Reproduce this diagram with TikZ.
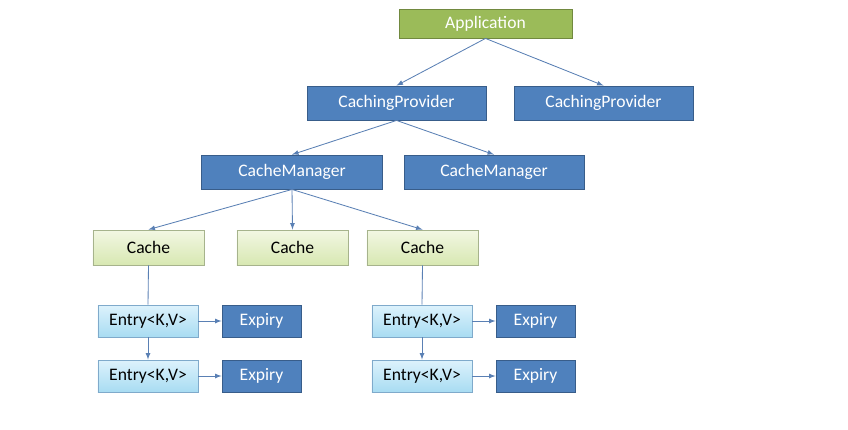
\documentclass[tikz,border=0pt]{standalone}
\usepackage{fontspec}
\setmainfont{Carlito}
\definecolor{appfill}{HTML}{9BBB59}
\definecolor{appline}{HTML}{71893F}
\definecolor{bluefill}{HTML}{4F81BD}
\definecolor{blueline}{HTML}{385D8A}
\definecolor{cachetop}{HTML}{F2F7E3}
\definecolor{cachebot}{HTML}{D8E8B2}
\definecolor{cacheline}{HTML}{A6B38C}
\definecolor{entrytop}{HTML}{DDF2FC}
\definecolor{entrybot}{HTML}{A8DCF2}
\definecolor{entryline}{HTML}{7FAACB}
\definecolor{linkcol}{HTML}{5A80B4}
\begin{document}
\begin{tikzpicture}[x=0.025cm, y=-0.025cm,
    every node/.style={font=\fontsize{12.5}{15}\selectfont},
    box/.style={draw, rectangle, inner sep=0pt, line width=0.6pt},
    dark/.style={box, fill=bluefill, draw=blueline, text=white, minimum height=0.85cm},
    cache/.style={box, top color=cachetop, bottom color=cachebot, draw=cacheline, minimum width=2.775cm, minimum height=0.875cm},
    entry/.style={box, top color=entrytop, bottom color=entrybot, draw=entryline, minimum width=2.5cm, minimum height=0.8cm},
    expiry/.style={box, fill=bluefill, draw=blueline, text=white, minimum width=1.975cm, minimum height=0.8cm},
    link/.style={-latex, linkcol, line width=0.6pt}]
    \useasboundingbox (0,0) rectangle (848,429);

    \node[box, fill=appfill, draw=appline, text=white, minimum width=4.325cm, minimum height=0.725cm] (app) at (485.5,23.5) {Application};
    \node[dark, minimum width=4.475cm] (cp1) at (396.5,103) {CachingProvider};
    \node[dark, minimum width=4.475cm] (cp2) at (603.5,103) {CachingProvider};
    \node[dark, minimum width=4.525cm] (cm1) at (292,172) {CacheManager};
    \node[dark, minimum width=4.5cm] (cm2) at (494,172) {CacheManager};

    \node[cache] (c1) at (148.5,247.5) {Cache};
    \node[cache] (c2) at (292.5,247.5) {Cache};
    \node[cache] (c3) at (422.5,247.5) {Cache};

    \node[entry] (e1) at (148,321) {Entry<K,V>};
    \node[expiry] (x1) at (261.5,321) {Expiry};
    \node[entry] (e2) at (148,376) {Entry<K,V>};
    \node[expiry] (x2) at (261.5,376) {Expiry};
    \node[entry] (e3) at (422,321) {Entry<K,V>};
    \node[expiry] (x3) at (535.5,321) {Expiry};
    \node[entry] (e4) at (422,376) {Entry<K,V>};
    \node[expiry] (x4) at (535.5,376) {Expiry};

    \draw[link] (app.south) -- (cp1.north);
    \draw[link] (app.south) -- (cp2.north);
    \draw[link] (cp1.south) -- (cm1.north);
    \draw[link] (cp1.south) -- (cm2.north);
    \draw[link] (cm1.south) -- (c1.north);
    \draw[link] (cm1.south) -- (c2.north);
    \draw[link] (cm1.south) -- (c3.north);

    \draw[linkcol, line width=0.6pt] (c1.south) -- (e1.north);
    \draw[linkcol, line width=0.6pt] (c3.south) -- (e3.north);
    \draw[link] (e1) -- (e2);
    \draw[link] (e3) -- (e4);
    \foreach \a/\b in {e1/x1, e2/x2, e3/x3, e4/x4}
        \draw[link] (\a) -- (\b);
\end{tikzpicture}
\end{document}
